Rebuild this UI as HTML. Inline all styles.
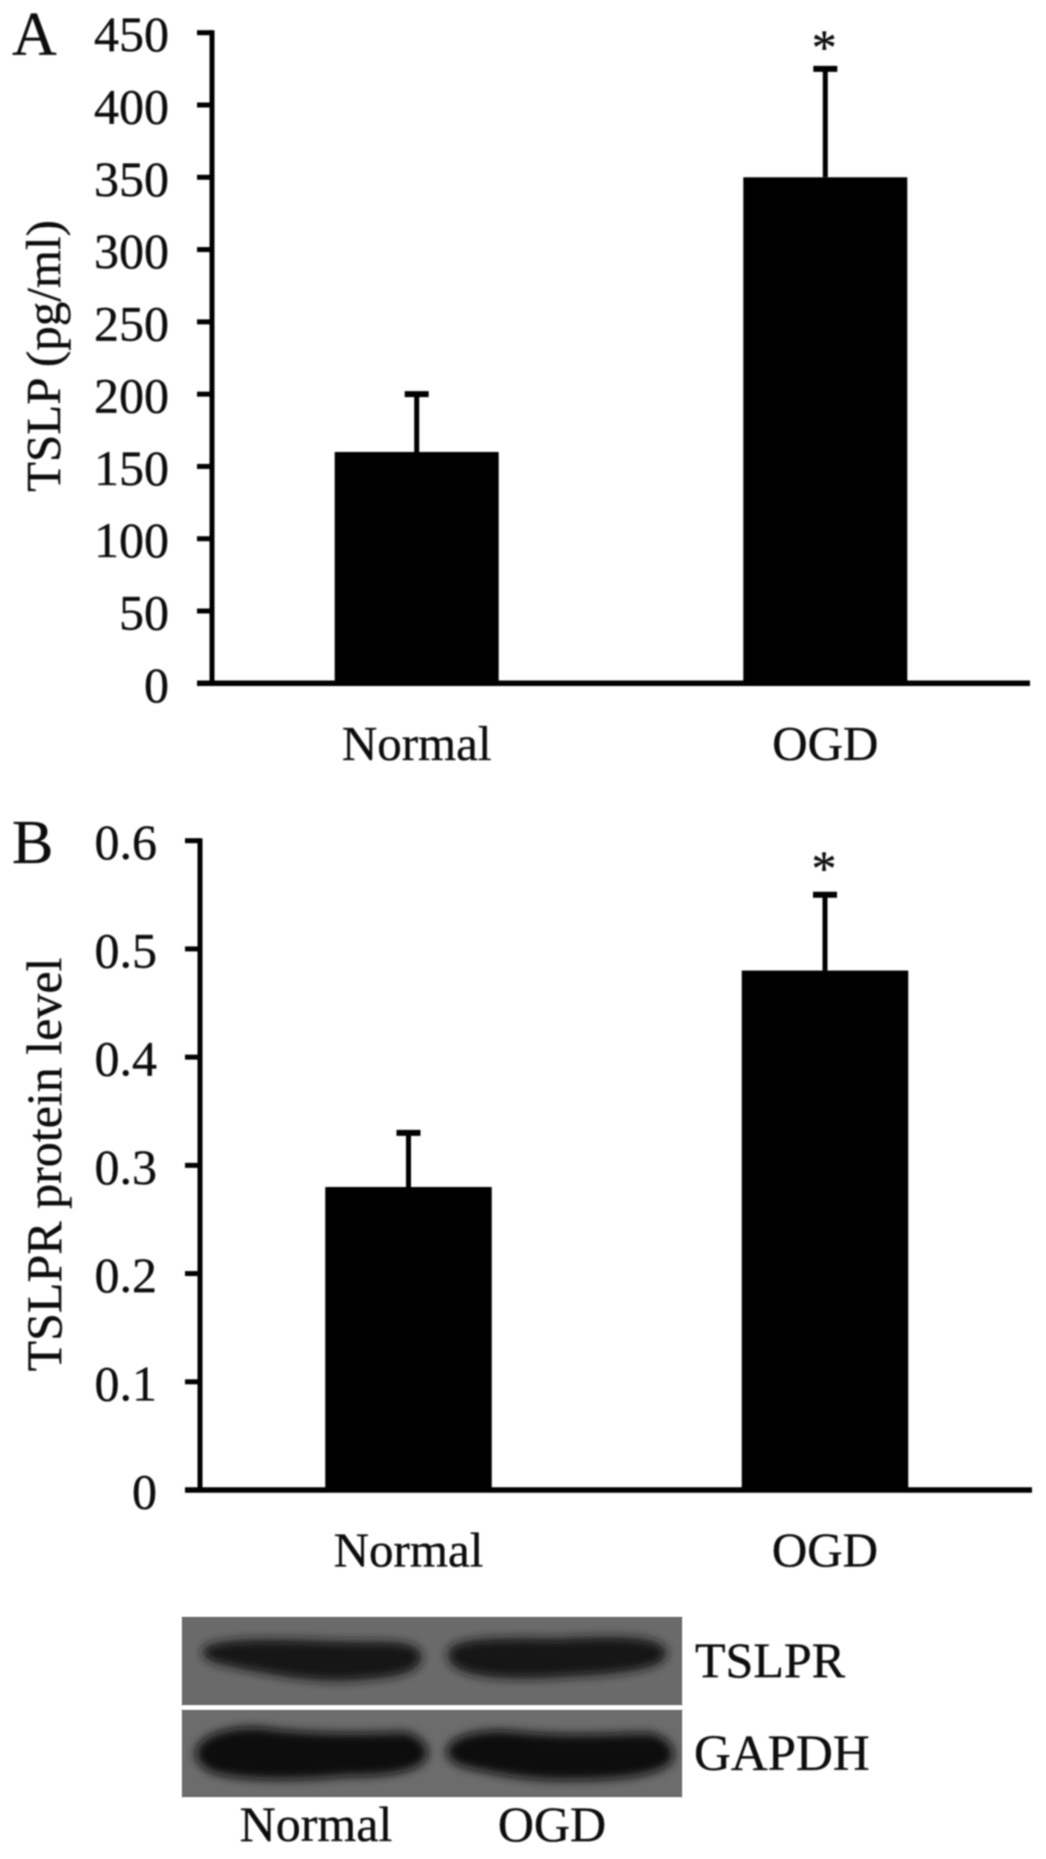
<!DOCTYPE html>
<html lang="en">
<head>
<meta charset="utf-8">
<title>TSLP and TSLPR levels</title>
<style>
html,body{margin:0;padding:0;background:#fff;width:1046px;height:1859px;overflow:hidden}
svg{display:block}
text{font-family:"Liberation Serif",serif;fill:#111;stroke:#111;stroke-width:.35px}
</style>
</head>
<body>
<svg id="figure" xmlns="http://www.w3.org/2000/svg" width="1046" height="1859" viewBox="0 0 1046 1859">
  <defs>
    <filter id="soft" x="-5%" y="-5%" width="110%" height="110%"><feGaussianBlur stdDeviation="0.7"/></filter>
    <filter id="band" x="-20%" y="-80%" width="140%" height="260%"><feGaussianBlur stdDeviation="5"/></filter>
    <clipPath id="blot-top-clip"><rect x="182" y="1617" width="500" height="88"/></clipPath>
    <clipPath id="blot-bottom-clip"><rect x="182" y="1710" width="500" height="87"/></clipPath>
  </defs>
  <g id="charts" filter="url(#soft)"></g>
  <g id="blot">
    <rect x="182" y="1617" width="500" height="88" fill="#6a6a6a" stroke="#a8a8a8" stroke-width="1"/>
    <g clip-path="url(#blot-top-clip)">
      <path filter="url(#band)" fill="#181818" stroke="#181818" stroke-width="9" stroke-linejoin="round" d="M207 1651 C230 1640 300 1645 350 1646 C385 1646 412 1645 417 1655 C419 1668 395 1673 365 1675 C320 1680 270 1670 240 1664 C222 1660 207 1658 207 1651 Z"/>
      <path filter="url(#band)" fill="#131313" stroke="#131313" stroke-width="9" stroke-linejoin="round" d="M452 1654 C455 1642 500 1642 560 1643 C610 1640 655 1640 662 1652 C664 1664 620 1670 570 1672 C520 1676 480 1674 462 1666 C455 1662 452 1659 452 1654 Z"/>
    </g>
    <rect x="182" y="1710" width="500" height="87" fill="#6c6c6c" stroke="#a8a8a8" stroke-width="1"/>
    <g clip-path="url(#blot-bottom-clip)">
      <path filter="url(#band)" fill="#0f0f0f" stroke="#0f0f0f" stroke-width="10" stroke-linejoin="round" d="M201 1752 C205 1738 235 1730 265 1733 C310 1740 370 1738 405 1737 C420 1742 424 1750 422 1756 C415 1768 380 1772 345 1771 C300 1776 240 1776 215 1768 C205 1764 200 1758 201 1752 Z"/>
      <path filter="url(#band)" fill="#0f0f0f" stroke="#0f0f0f" stroke-width="10" stroke-linejoin="round" d="M452 1750 C458 1738 490 1733 520 1737 C570 1742 620 1738 650 1738 C665 1742 670 1750 668 1758 C660 1770 620 1775 570 1775 C530 1776 490 1768 465 1762 C455 1758 450 1754 452 1750 Z"/>
    </g>
    <g filter="url(#soft)">
      <text x="695" y="1677" font-size="50">TSLPR</text>
      <text x="694" y="1770" font-size="51">GAPDH</text>
      <text x="316" y="1841" font-size="50" text-anchor="middle">Normal</text>
      <text x="552" y="1841" font-size="50" text-anchor="middle">OGD</text>
    </g>
  </g>
</svg>
<script>
var categories = ['Normal', 'OGD'];
var tslpValues = [160, 350];
var tslpErrors = [40, 75];
var tslpTicks = [0, 50, 100, 150, 200, 250, 300, 350, 400, 450];
var tslprValues = [0.28, 0.48];
var tslprErrors = [0.05, 0.07];
var tslprTicks = [0, 0.1, 0.2, 0.3, 0.4, 0.5, 0.6];
var tslpSignificance = ['', '*'];
var tslprSignificance = ['', '*'];

var root = document.getElementById('charts');
var NS = 'http://www.w3.org/2000/svg';

function make(tag, attrs, text) {
  var el = document.createElementNS(NS, tag);
  for (var k in attrs) el.setAttribute(k, attrs[k]);
  if (text !== undefined) el.textContent = text;
  root.appendChild(el);
  return el;
}

function drawPanel(p) {
  var maxTick = p.ticks[p.ticks.length - 1];
  function yScale(v) { return p.y0 - (v / maxTick) * (p.y0 - p.y1); }

  var letter = make('text', {x: p.letterX, y: p.letterY, 'font-size': 62}, p.letter);
  
  

  var yAxis = make('line', {x1: p.axisX, x2: p.axisX, y1: p.y1 - 2.5, y2: p.y0 + 2.5, stroke: '#000', 'stroke-width': 5});
  
  

  var xAxis = make('line', {x1: p.axisX - 15, x2: p.xEnd, y1: p.y0, y2: p.y0, stroke: '#000', 'stroke-width': 5.5});
  
  

  p.ticks.forEach(function (t) {
    var y = yScale(t);
    var tick = make('line', {x1: p.axisX - 15, x2: p.axisX, y1: y, y2: y, stroke: '#000', 'stroke-width': 5});
    
    
    var label = make('text', {x: p.tickRight, y: y + 18.5, 'font-size': 50, 'text-anchor': 'end'}, String(t));
    
    
  });

  categories.forEach(function (c, i) {
    var cx = p.centers[i];
    var top = yScale(p.values[i]);
    var errTop = yScale(p.values[i] + p.errors[i]);

    var stem = make('line', {x1: cx, x2: cx, y1: errTop, y2: top, stroke: '#000', 'stroke-width': 5});
    
    

    var cap = make('line', {x1: cx - 12, x2: cx + 12, y1: errTop, y2: errTop, stroke: '#000', 'stroke-width': 6});
    
    

    var bar = make('rect', {x: cx - p.barWidth / 2, y: top, width: p.barWidth, height: p.y0 - top, fill: '#000'});
    
    

    var cat = make('text', {x: cx, y: p.labelY, 'font-size': 49, 'text-anchor': 'middle'}, c);
    
    

    if (p.stars[i]) {
      var star = make('text', {x: cx - 1, y: errTop - p.starGap, 'font-size': 50, 'text-anchor': 'middle'}, p.stars[i]);
      
      
    }
  });

  var title = make('text', {
    x: 0, y: 0, 'font-size': p.titleSize, 'text-anchor': 'middle',
    transform: 'translate(' + p.titleX + ' ' + p.titleY + ') rotate(-90)'
  }, p.title);
  
  
}

drawPanel({
  letter: 'A', letterX: 12, letterY: 55,
  axisX: 212, tickRight: 169, xEnd: 1030, y0: 683.3, y1: 32.7,
  centers: [416.7, 825.3], barWidth: 164, labelY: 760,
  ticks: tslpTicks, values: tslpValues, errors: tslpErrors, stars: tslpSignificance,
  starGap: 5,
  title: 'TSLP (pg/ml)', titleSize: 49, titleX: 60, titleY: 356
});

drawPanel({
  letter: 'B', letterX: 12, letterY: 863,
  axisX: 200, tickRight: 157, xEnd: 1032, y0: 1490, y1: 840.7,
  centers: [408.5, 825], barWidth: 166.5, labelY: 1566.7,
  ticks: tslprTicks, values: tslprValues, errors: tslprErrors, stars: tslprSignificance,
  starGap: 10,
  title: 'TSLPR protein level', titleSize: 50, titleX: 61, titleY: 1164.5
});
</script>
</body>
</html>
